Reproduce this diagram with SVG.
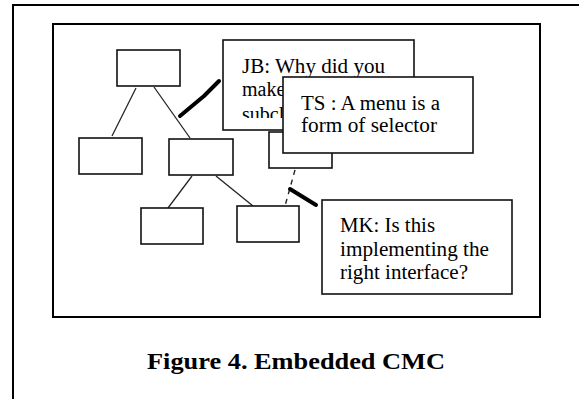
<svg xmlns="http://www.w3.org/2000/svg" width="579" height="399" viewBox="0 0 579 399">
  <style>
    .frame { fill: none; stroke: #000; stroke-width: 2; }
    .node { fill: #fff; stroke: #111; stroke-width: 1.6; }
    .note { fill: #fff; stroke: #111; stroke-width: 1.6; }
    .link { stroke: #222; stroke-width: 1.3; fill: none; }
    .dash { stroke: #222; stroke-width: 1.4; fill: none; stroke-dasharray: 5 5; }
    .pointer { stroke: #000; stroke-width: 4; fill: none; stroke-linecap: round; stroke-linejoin: round; }
    .note-text { font-family: "Liberation Serif", "Times New Roman", serif; font-size: 20px; fill: #000; }
    .caption { font-family: "Liberation Serif", "Times New Roman", serif; font-size: 24px; font-weight: bold; fill: #000; }
  </style>
  <defs>
    <clipPath id="jb-clip">
      <rect x="224" y="41" width="189" height="77"/>
    </clipPath>
  </defs>

  <rect width="579" height="399" fill="#fff"/>

  <!-- page frame: top and left rules -->
  <path class="frame" d="M13 399 V5 H579"/>

  <!-- figure panel -->
  <rect class="frame" x="53" y="24" width="487" height="293"/>

  <!-- tree connectors and comment pointers -->
  <g id="connectors">
    <line class="link" x1="136" y1="88" x2="112" y2="136"/>
    <line class="link" x1="154" y1="87" x2="190" y2="138"/>
    <line class="link" x1="192" y1="176" x2="168" y2="208"/>
    <line class="link" x1="216" y1="176" x2="253" y2="206"/>
    <line class="dash" x1="295" y1="170" x2="285" y2="206"/>
    <path class="pointer" d="M180 116 L204 96 L219 81"/>
    <path class="pointer" d="M290 189 L316 205"/>
  </g>

  <!-- tree nodes -->
  <g id="node-root"><rect class="node" x="117" y="50" width="63" height="36"/></g>
  <g id="node-left"><rect class="node" x="79" y="138" width="63" height="36"/></g>
  <g id="node-mid"><rect class="node" x="169" y="139" width="64" height="36"/></g>
  <g id="node-right"><rect class="node" x="269" y="132" width="63" height="36"/></g>
  <g id="node-bottom-left"><rect class="node" x="141" y="208" width="62" height="36"/></g>
  <g id="node-bottom-right"><rect class="node" x="237" y="206" width="62" height="36"/></g>

  <!-- comment notes -->
  <g id="note-jb">
    <rect class="note" x="223" y="40" width="191" height="90"/>
    <g clip-path="url(#jb-clip)">
      <text class="note-text" x="242" y="73" textLength="143" lengthAdjust="spacingAndGlyphs">JB: Why did you</text>
      <text class="note-text" x="242" y="96">make</text>
      <text class="note-text" x="242" y="121">subcl</text>
    </g>
  </g>

  <g id="note-ts">
    <rect class="note" x="283" y="77" width="190" height="76"/>
    <text class="note-text" x="301" y="110" textLength="139" lengthAdjust="spacingAndGlyphs">TS : A menu is a</text>
    <text class="note-text" x="301" y="132" textLength="136" lengthAdjust="spacingAndGlyphs">form of selector</text>
  </g>

  <g id="note-mk">
    <rect class="note" x="322" y="200" width="190" height="94"/>
    <text class="note-text" x="340" y="232" textLength="95" lengthAdjust="spacingAndGlyphs">MK: Is this</text>
    <text class="note-text" x="340" y="256" textLength="149" lengthAdjust="spacingAndGlyphs">implementing the</text>
    <text class="note-text" x="340" y="279" textLength="128" lengthAdjust="spacingAndGlyphs">right interface?</text>
  </g>

  <text class="caption" x="147" y="369" textLength="298" lengthAdjust="spacingAndGlyphs">Figure 4. Embedded CMC</text>
</svg>
